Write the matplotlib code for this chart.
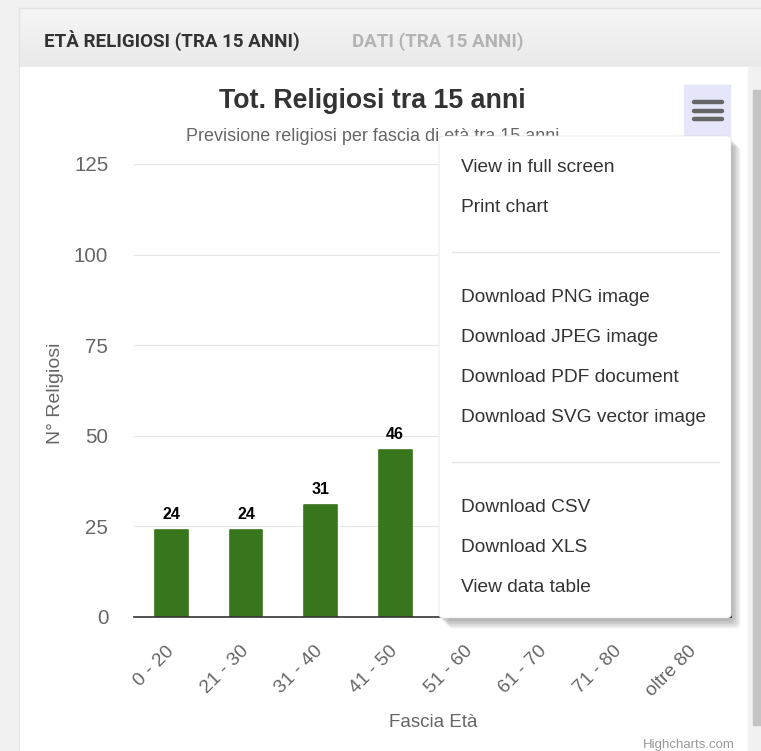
import numpy as np
import matplotlib
matplotlib.use("Agg")
import matplotlib.pyplot as plt
import matplotlib.transforms as mtransforms
from matplotlib.patches import Rectangle, FancyBboxPatch

plt.rcParams['font.family'] = ['Liberation Sans', 'DejaVu Sans']

# chart data (bars from 51-60 on are hidden behind the export menu)
categories = ['0 - 20', '21 - 30', '31 - 40', '41 - 50', '51 - 60', '61 - 70', '71 - 80', 'oltre 80']
values = [24, 24, 31, 46, np.nan, np.nan, np.nan, np.nan]
yticks = [0, 25, 50, 75, 100, 125]

title = 'Tot. Religiosi tra 15 anni'
subtitle = 'Previsione religiosi per fascia di età tra 15 anni'
tabs = ['ETÀ RELIGIOSI (TRA 15 ANNI)', 'DATI (TRA 15 ANNI)']
menu_items = ['View in full screen', 'Print chart', None,
              'Download PNG image', 'Download JPEG image', 'Download PDF document',
              'Download SVG vector image', None,
              'Download CSV', 'Download XLS', 'View data table']

W, H = 761, 751
fig = plt.figure(figsize=(W / 100, H / 100), dpi=100)

# background layer in pixel coords
bg = fig.add_axes([0, 0, 1, 1], zorder=0)
bg.set_xlim(0, W)
bg.set_ylim(H, 0)
bg.axis('off')
bg.add_patch(Rectangle((0, 0), W, H, color='#f1f1f1'))
# tab header with a soft gradient
grad = np.linspace(0, 1, 60).reshape(-1, 1)
bg.imshow(grad, extent=[19, W, 67, 8], cmap=matplotlib.colors.LinearSegmentedColormap.from_list(
    'g', ['#f6f6f6', '#e9e9e9']), aspect='auto', zorder=1)
bg.plot([19, W], [8, 8], color='#e2e2e2', lw=1, zorder=2)
bg.plot([19, 19], [8, H], color='#e2e2e2', lw=1, zorder=2)
bg.add_patch(Rectangle((19.5, 67), 729, H - 67, color='white', zorder=2))
# scrollbar
bg.add_patch(Rectangle((748, 67), 13, H - 67, color='#f1f1f1', zorder=2))
bg.add_patch(Rectangle((753, 90), 8, 635, color='#c4c4c4', zorder=3))

tabfont = ['Roboto', 'DejaVu Sans']
bg.text(44, 47, tabs[0], family=tabfont, fontsize=13.5, fontweight='bold',
        color='#333333', ha='left', va='baseline', zorder=4)
bg.text(352, 47, tabs[1], family=tabfont, fontsize=13.5, fontweight='bold',
        color='#b3b3b3', ha='left', va='baseline', zorder=4)

bg.text(372, 108, title, fontsize=19.3, fontweight='bold', color='#333333',
        ha='center', va='baseline', zorder=4)
bg.text(373, 141, subtitle, fontsize=13, color='#666666',
        ha='center', va='baseline', zorder=4)
bg.text(55, 393, 'N° Religiosi', fontsize=14, color='#666666', rotation=90,
        ha='center', va='center', zorder=4)
bg.text(433, 727, 'Fascia Età', fontsize=13.5, color='#666666',
        ha='center', va='baseline', zorder=4)
bg.text(735, 748, 'Highcharts.com', fontsize=9.5, color='#999999',
        ha='right', va='baseline', zorder=4)

# chart
left, right, top, bottom = 134, 731, 164, 617
ax = fig.add_axes([left / W, 1 - bottom / H, (right - left) / W, (bottom - top) / H], zorder=1)
ax.patch.set_alpha(0)
x = np.arange(len(categories))
bars = ax.bar(x, values, width=0.44, color='#38761d', edgecolor='#38761d',
              linewidth=1.2, joinstyle='round', zorder=3)
for xi, v in zip(x, values):
    if not np.isnan(v):
        ax.text(xi, v + 2.2, f'{v:.0f}', ha='center', va='bottom', fontsize=11.5,
                fontweight='bold', color='#000000', zorder=4)
ax.set_xlim(-0.5, len(categories) - 0.5)
ax.set_ylim(0, 125)
ax.set_yticks(yticks)
ax.set_xticks(x)
ax.set_xticklabels(categories, rotation=45, ha='right', va='center', rotation_mode='anchor')
shift = mtransforms.ScaledTranslation(4 / 100, 0, fig.dpi_scale_trans)
for lab in ax.get_xticklabels():
    lab.set_transform(lab.get_transform() + shift)
ax.tick_params(axis='y', length=0, pad=18.5, labelsize=14.8, labelcolor='#666666')
ax.tick_params(axis='x', length=0, pad=23, labelsize=13.8, labelcolor='#666666')
ax.grid(axis='y', color='#e6e6e6', lw=0.8, zorder=0)
for s in ['left', 'right', 'top']:
    ax.spines[s].set_visible(False)
ax.spines['bottom'].set_color('#333333')
ax.spines['bottom'].set_linewidth(1.2)
ax.spines['bottom'].set_zorder(5)

# export menu overlay
ov = fig.add_axes([0, 0, 1, 1], zorder=10)
ov.set_xlim(0, W)
ov.set_ylim(H, 0)
ov.axis('off')
ov.patch.set_alpha(0)
ov.add_patch(Rectangle((684, 85), 46, 51, color='#e6e6fa', zorder=1))
for yy in [102, 111, 119]:
    ov.plot([694, 722], [yy, yy], color='#666666', lw=3.2, solid_capstyle='round', zorder=2)
mx0, my0, mx1, my1 = 439, 136, 731, 618
for i in range(7):
    o = 1.5 + i * 1.5
    ov.add_patch(FancyBboxPatch((mx0 + o - 1, my0 + o), mx1 - mx0, my1 - my0,
                                boxstyle='round,pad=0,rounding_size=5',
                                fc='black', ec='none', alpha=0.05, zorder=2))
ov.add_patch(FancyBboxPatch((mx0, my0), mx1 - mx0, my1 - my0,
                            boxstyle='round,pad=0,rounding_size=4',
                            fc='white', ec='#e0e0e0', lw=0.5, zorder=3))
item_y = [167, 208, 252, 297, 337, 378, 418, 462, 507, 547, 587]
for label, yy in zip(menu_items, item_y):
    if label is None:
        ov.plot([452, 719], [yy, yy], color='#e6e6e6', lw=1, zorder=4)
    else:
        ov.text(461, yy, label, fontsize=13.8, color='#333333',
                ha='left', va='center', zorder=4)

fig.savefig('out.png', dpi=100)
